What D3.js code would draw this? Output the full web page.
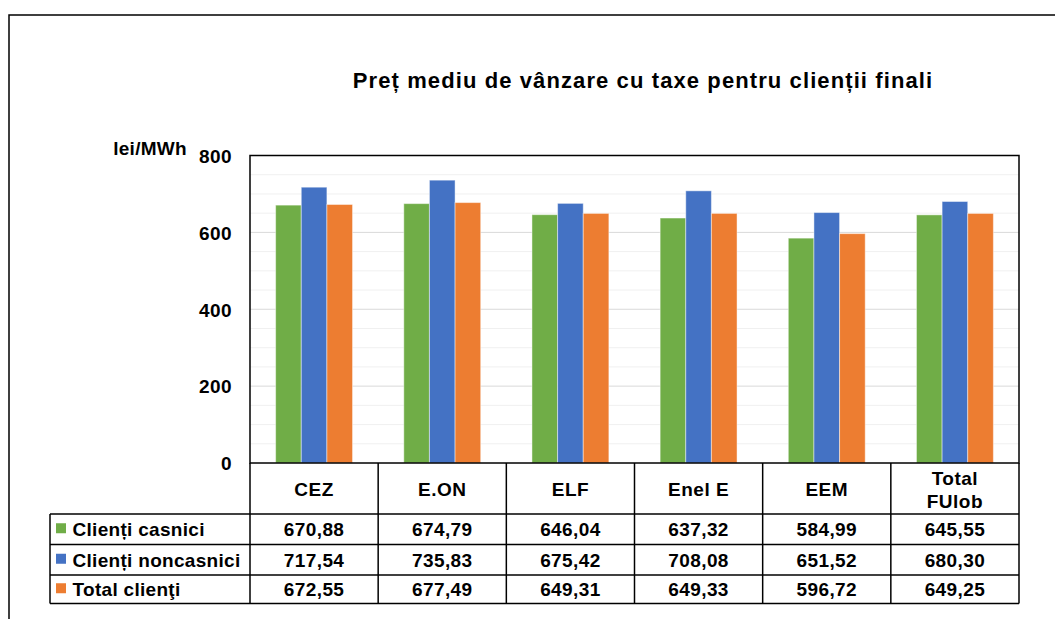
<!DOCTYPE html>
<html>
<head>
<meta charset="utf-8">
<script src="https://cdn.jsdelivr.net/npm/d3@7"></script>
<style>
  body { margin: 0; background: #fff; }
  svg text { font-family: 'Liberation Sans', Arial, sans-serif; font-weight: bold; fill: #000; }
</style>
</head>
<body>
<svg id="chart" width="1055" height="619"></svg>
<script>
const categories = ['CEZ', 'E.ON', 'ELF', 'Enel E', 'EEM', 'Total FUlob'];
const seriesNames = ['Clienți casnici', 'Clienți noncasnici', 'Total clienţi'];
const casnici = [670.88, 674.79, 646.04, 637.32, 584.99, 645.55];
const noncasnici = [717.54, 735.83, 675.42, 708.08, 651.52, 680.30];
const totalClienti = [672.55, 677.49, 649.31, 649.33, 596.72, 649.25];
const yTicks = [0, 200, 400, 600, 800];
const colors = ['#70ad47', '#4472c4', '#ed7d31'];

const series = [casnici, noncasnici, totalClienti];

const svg = d3.select('#chart');
const plot = { left: 250, right: 1019, top: 155.5, bottom: 463 };
const table = { legendLeft: 50, headerBottom: 514, rows: [514, 544.5, 575, 603.5] };
const fmt = d3.formatLocale({ decimal: ',', thousands: '.', grouping: [3], currency: ['', ''] }).format('.2f');

const scales = {};

function setupScales() {
  scales.x = d3.scaleBand()
    .domain(categories)
    .range([plot.left, plot.right])
    .paddingInner(0.4)
    .paddingOuter(0.2);
  scales.xs = d3.scaleBand()
    .domain(d3.range(series.length))
    .range([0, scales.x.bandwidth()]);
  scales.y = d3.scaleLinear().domain([0, 800]).range([plot.bottom, plot.top]);
}

// outer chart border (right and bottom edges run off the picture)
svg.append('rect')
  .attr('x', 9).attr('y', 15)
  .attr('width', 1070).attr('height', 700)
  .attr('fill', 'none').attr('stroke', '#000').attr('stroke-width', 1.5);

svg.append('text')
  .attr('x', 643).attr('y', 88)
  .attr('text-anchor', 'middle')
  .style('font-size', '22px')
  .style('letter-spacing', '1.1px')
  .text('Preț mediu de vânzare cu taxe pentru clienții finali');

svg.append('text')
  .attr('x', 187).attr('y', 155)
  .attr('text-anchor', 'end')
  .style('font-size', '19px')
  .style('letter-spacing', '0.3px')
  .text('lei/MWh');

setupScales();

function drawGrid() {
  const minor = d3.range(50, 800, 50).filter(v => v % 200 !== 0);
  svg.append('g').selectAll('line')
    .data(minor)
    .join('line')
    .attr('x1', plot.left).attr('x2', plot.right)
    .attr('y1', d => scales.y(d)).attr('y2', d => scales.y(d))
    .attr('stroke', '#f0f0f0').attr('stroke-width', 1);

  svg.append('g').selectAll('line')
    .data(yTicks.filter(v => v > 0 && v < 800))
    .join('line')
    .attr('x1', plot.left).attr('x2', plot.right)
    .attr('y1', d => scales.y(d)).attr('y2', d => scales.y(d))
    .attr('stroke', '#d9d9d9').attr('stroke-width', 1);

  const axisY = d3.axisLeft(scales.y)
    .tickValues(yTicks)
    .tickSize(0)
    .tickPadding(18);
  const gy = svg.append('g')
    .attr('transform', `translate(${plot.left},0)`)
    .call(axisY);
  gy.select('.domain').remove();
  gy.selectAll('text')
    .attr('dy', '0.36em')
    .style('font-size', '19px')
    .style('letter-spacing', '0.4px')
    .style('font-family', null);
}

function drawBars() {
  const groups = svg.append('g').selectAll('g')
    .data(categories)
    .join('g')
    .attr('transform', d => `translate(${scales.x(d)},0)`);

  groups.selectAll('rect')
    .data((c, i) => series.map((s, k) => ({ k, v: s[i] })))
    .join('rect')
    .attr('x', d => scales.xs(d.k))
    .attr('width', scales.xs.bandwidth())
    .attr('y', d => scales.y(d.v))
    .attr('height', d => scales.y(0) - scales.y(d.v))
    .attr('fill', d => colors[d.k])
    .attr('stroke', '#fff')
    .attr('stroke-opacity', 0.45)
    .attr('stroke-width', 1);

  svg.append('rect')
    .attr('x', plot.left).attr('y', plot.top)
    .attr('width', plot.right - plot.left).attr('height', plot.bottom - plot.top)
    .attr('fill', 'none').attr('stroke', '#000').attr('stroke-width', 1.5);
}

function drawTable() {
  const step = scales.x.step();
  const colEdges = categories.map((c, i) => plot.left + i * step).concat(plot.right);
  const lines = svg.append('g').attr('stroke', '#000').attr('stroke-width', 1.5);

  // column separators
  colEdges.forEach(x => {
    lines.append('line').attr('x1', x).attr('x2', x).attr('y1', plot.bottom).attr('y2', table.rows[3]);
  });
  // legend column left edge
  lines.append('line')
    .attr('x1', table.legendLeft).attr('x2', table.legendLeft)
    .attr('y1', table.rows[0]).attr('y2', table.rows[3]);
  table.rows.forEach(y => {
    lines.append('line').attr('x1', table.legendLeft).attr('x2', plot.right).attr('y1', y).attr('y2', y);
  });

  // header labels
  const head = svg.append('g').selectAll('text')
    .data(categories)
    .join('text')
    .attr('x', (d, i) => colEdges[i] + step / 2)
    .attr('text-anchor', 'middle')
    .style('font-size', '19px')
    .style('letter-spacing', '0.5px');
  head.each(function(d) {
    const words = d === 'Total FUlob' ? ['Total', 'FUlob'] : [d];
    const t = d3.select(this);
    const mid = (plot.bottom + table.headerBottom) / 2 + 1;
    words.forEach((w, j) => {
      t.append('tspan')
        .attr('x', t.attr('x'))
        .attr('y', mid + (j - (words.length - 1) / 2) * 23)
        .attr('dy', '0.36em')
        .text(w);
    });
  });

  // rows
  seriesNames.forEach((name, k) => {
    const cy = (table.rows[k] + table.rows[k + 1]) / 2;
    svg.append('rect')
      .attr('x', 56).attr('y', cy - 6)
      .attr('width', 10).attr('height', 10)
      .attr('fill', colors[k]);
    svg.append('text')
      .attr('x', 72.5).attr('y', cy)
      .attr('dy', '0.36em')
      .style('font-size', '19px')
      .style('letter-spacing', '0.3px')
      .text(name);
    svg.append('g').selectAll('text')
      .data(series[k])
      .join('text')
      .attr('x', (d, i) => colEdges[i] + step / 2)
      .attr('y', cy)
      .attr('dy', '0.36em')
      .attr('text-anchor', 'middle')
      .style('font-size', '19px')
      .style('letter-spacing', '0.4px')
      .text(d => fmt(d));
  });
}

drawGrid();
drawBars();
drawTable();
</script>
</body>
</html>
